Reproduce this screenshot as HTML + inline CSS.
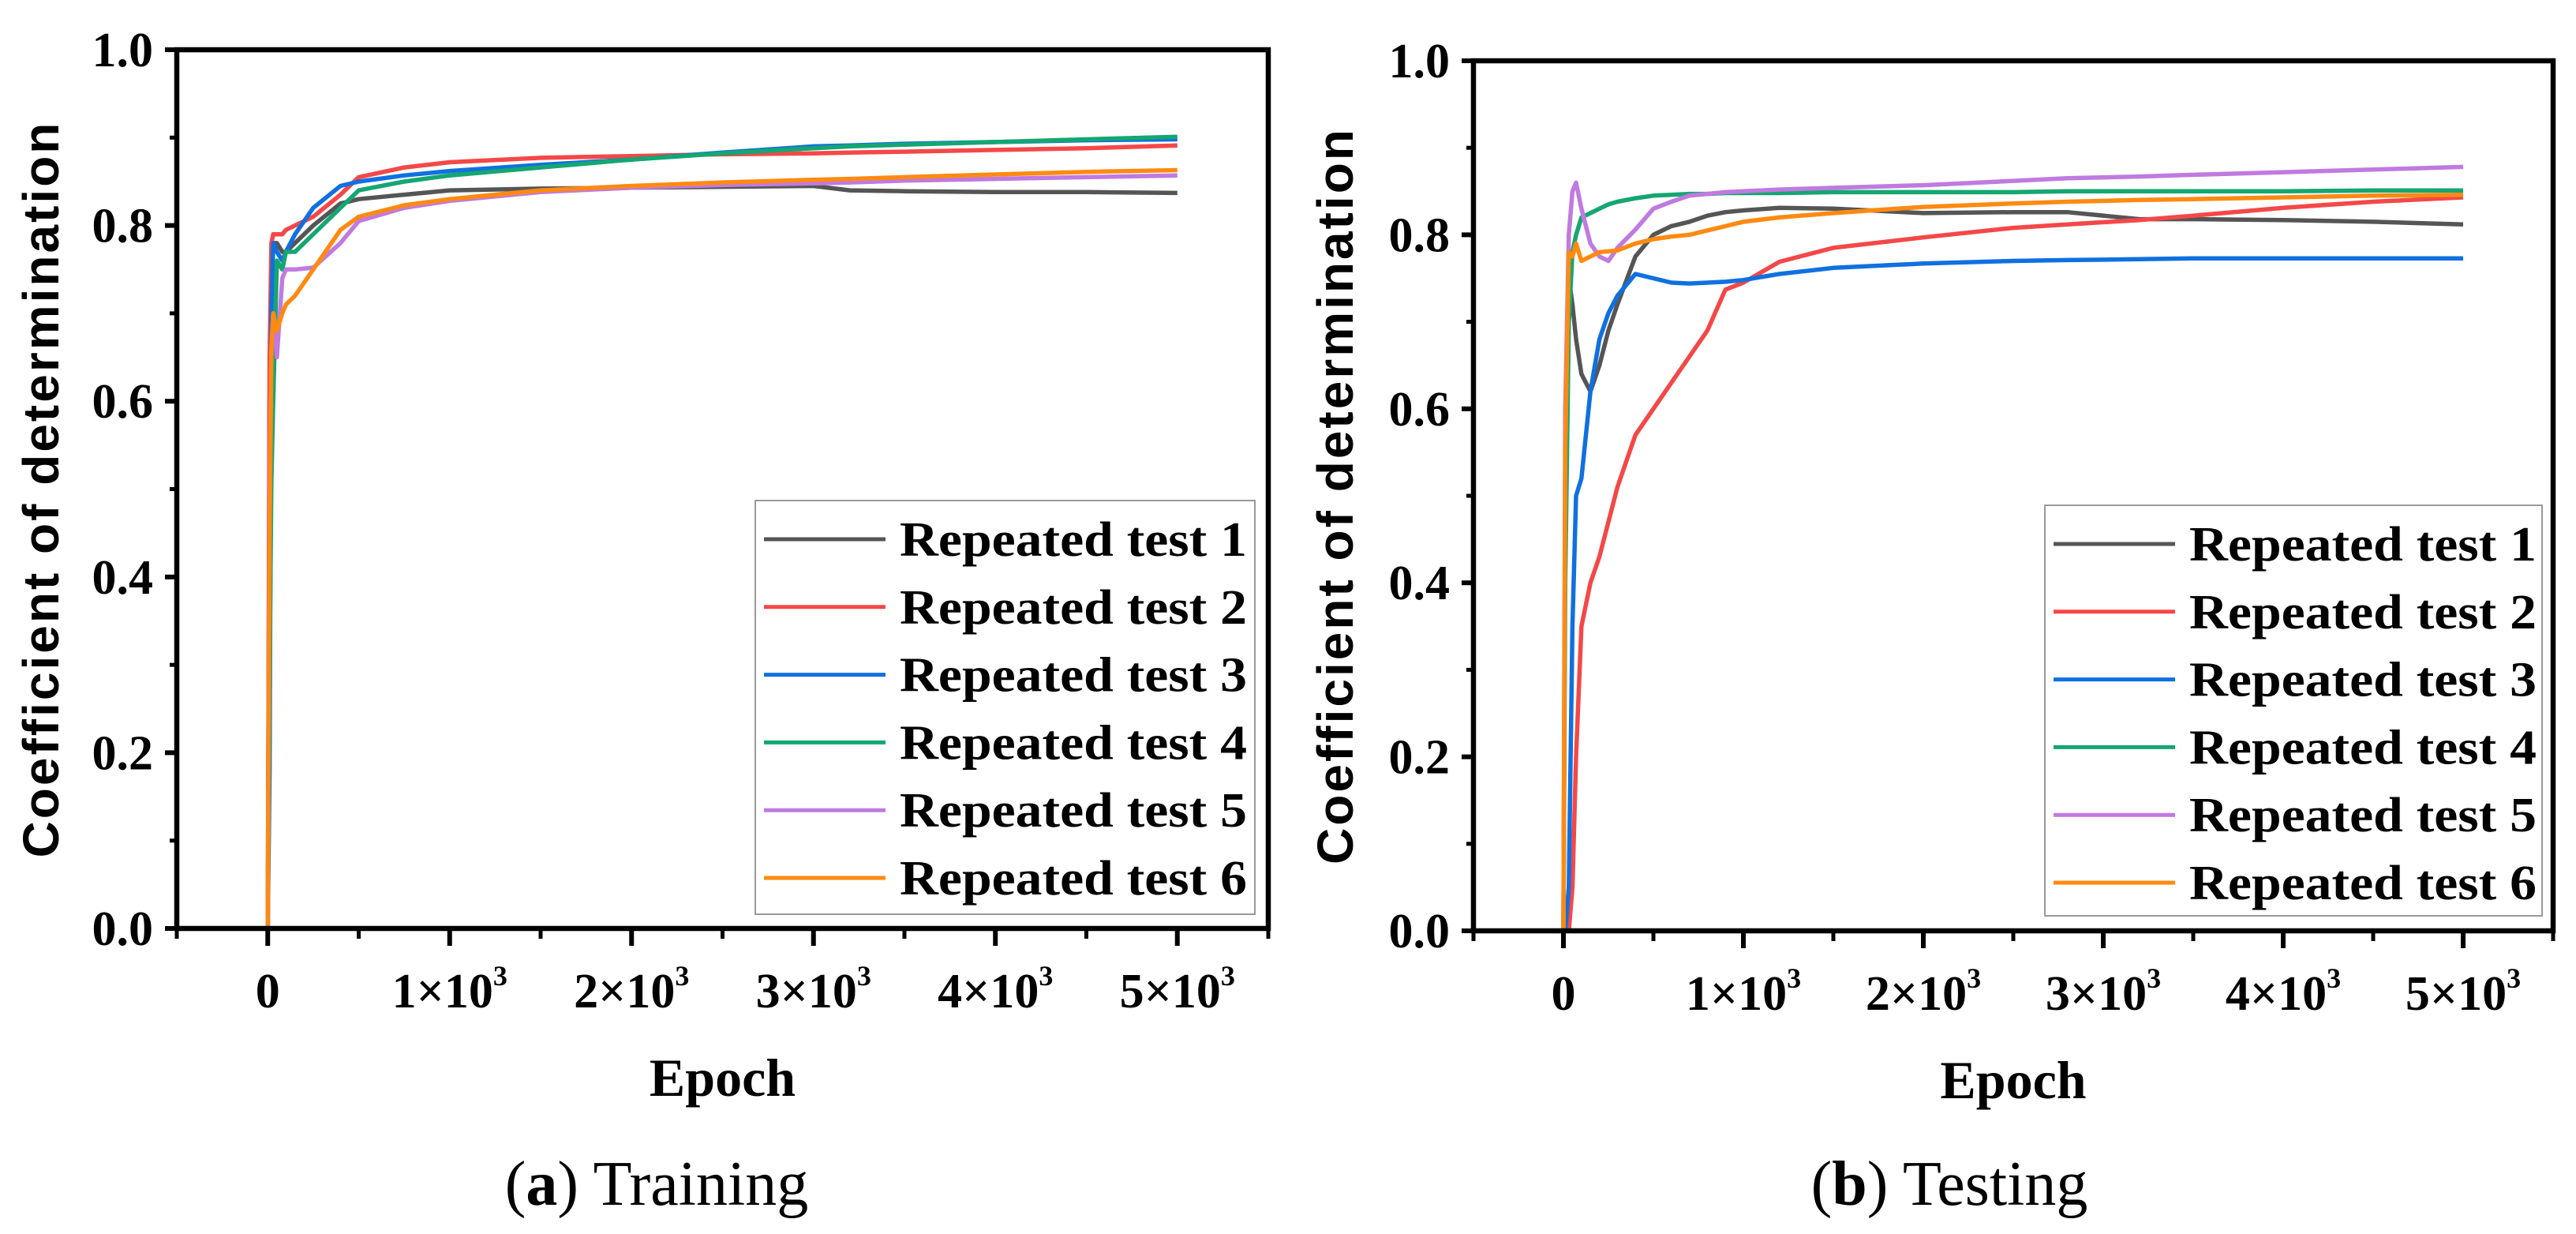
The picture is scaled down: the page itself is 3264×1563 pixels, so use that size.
<!DOCTYPE html>
<html><head><meta charset="utf-8"><style>
html,body{margin:0;padding:0;background:#fff;}
svg{display:block;}
</style></head><body>
<svg id="fig" width="3264" height="1563" viewBox="0 0 3264 1563" xmlns="http://www.w3.org/2000/svg" font-family="Liberation Serif, serif"></svg>
<script>
// ---- Data ----
const seriesNames = ["Repeated test 1","Repeated test 2","Repeated test 3","Repeated test 4","Repeated test 5","Repeated test 6"];
const seriesColors = ["#555555","#f44848","#1070e0","#15a672","#c07ae0","#ff8a12"];
const yTicks = [0.0,0.2,0.4,0.6,0.8,1.0];
const yTickLabels = ["0.0","0.2","0.4","0.6","0.8","1.0"];
const xTicks = [0,1000,2000,3000,4000,5000];
const xTickMant = ["0","1","2","3","4","5"];

const trainEpochs = [0,10,20,30,50,80,100,150,250,400,500,750,1000,1500,2000,2500,3000,3200,3500,4000,4500,5000];
const train1 = [0,0.60,0.75,0.78,0.78,0.77,0.77,0.78,0.80,0.825,0.83,0.835,0.84,0.842,0.843,0.844,0.845,0.840,0.839,0.838,0.838,0.837];
const train2 = [0,0.65,0.78,0.79,0.79,0.79,0.795,0.80,0.81,0.835,0.855,0.866,0.872,0.877,0.879,0.881,0.882,0.883,0.884,0.886,0.888,0.891];
const train3 = [0,0.18,0.70,0.78,0.77,0.76,0.77,0.79,0.82,0.845,0.85,0.857,0.862,0.869,0.875,0.883,0.89,0.891,0.893,0.895,0.897,0.898];
const train4 = [0,0.30,0.51,0.60,0.76,0.75,0.77,0.77,0.79,0.82,0.84,0.85,0.857,0.866,0.875,0.882,0.888,0.89,0.892,0.895,0.898,0.901];
const train5 = [0,0.50,0.66,0.70,0.65,0.74,0.75,0.75,0.752,0.78,0.805,0.82,0.828,0.838,0.843,0.846,0.848,0.849,0.851,0.853,0.855,0.857];
const train6 = [0,0.45,0.66,0.70,0.68,0.70,0.71,0.72,0.75,0.795,0.81,0.823,0.83,0.84,0.845,0.849,0.852,0.853,0.855,0.858,0.861,0.863];

const testEpochs = [0,10,30,50,70,100,150,200,250,300,400,500,600,700,800,900,1000,1200,1500,2000,2500,2800,3200,3500,4000,4500,5000];
const test1 = [0,0.50,0.75,0.72,0.68,0.64,0.62,0.65,0.69,0.72,0.775,0.80,0.81,0.815,0.822,0.826,0.828,0.831,0.83,0.825,0.826,0.826,0.818,0.818,0.817,0.815,0.812];
const test2 = [0,0,0,0.05,0.20,0.35,0.40,0.43,0.47,0.51,0.57,0.60,0.63,0.66,0.69,0.737,0.745,0.769,0.785,0.797,0.808,0.812,0.817,0.822,0.831,0.838,0.843];
const test3 = [0,0,0.05,0.35,0.50,0.52,0.62,0.68,0.71,0.73,0.755,0.75,0.745,0.744,0.745,0.746,0.748,0.755,0.762,0.767,0.77,0.771,0.772,0.773,0.773,0.773,0.773];
const test4 = [0,0.40,0.70,0.78,0.80,0.82,0.825,0.83,0.835,0.838,0.842,0.845,0.846,0.847,0.847,0.848,0.848,0.848,0.849,0.849,0.849,0.85,0.85,0.85,0.85,0.851,0.851];
const test5 = [0,0.60,0.80,0.85,0.86,0.83,0.79,0.775,0.77,0.785,0.806,0.83,0.838,0.845,0.847,0.849,0.85,0.852,0.854,0.857,0.862,0.865,0.867,0.869,0.872,0.875,0.878];
const test6 = [0,0.55,0.78,0.775,0.79,0.77,0.775,0.78,0.781,0.782,0.79,0.795,0.798,0.80,0.805,0.81,0.815,0.82,0.825,0.832,0.836,0.838,0.84,0.841,0.843,0.845,0.846];

const NS="http://www.w3.org/2000/svg";
const svg=document.getElementById('fig');
function mk(tag,attrs,parent){const e=document.createElementNS(NS,tag);for(const k in attrs)e.setAttribute(k,attrs[k]);(parent||svg).appendChild(e);return e;}

function panel(cfg){
  const g=mk('g',{});
  
  
  const X=e=>cfg.x0+(e-(-500))/6000*(cfg.x1-cfg.x0);
  const Y=v=>cfg.y1-v*(cfg.y1-cfg.y0);
  cfg.series.forEach((s,i)=>{
    const d=cfg.epochs.map((e,j)=>(j?'L':'M')+X(e).toFixed(1)+','+Y(s[j]).toFixed(1)).join('');
    const p=mk('path',{d:d,fill:'none',stroke:seriesColors[i],'stroke-width':5.5,'stroke-linejoin':'round'},g);
    
    
  });
  const fr=mk('rect',{x:cfg.x0,y:cfg.y0,width:cfg.x1-cfg.x0,height:cfg.y1-cfg.y0,fill:'none',stroke:'#000','stroke-width':6.5},g);
  
  
  yTicks.forEach((v,i)=>{
    mk('line',{x1:cfg.x0-15,x2:cfg.x0,y1:Y(v),y2:Y(v),stroke:'#000','stroke-width':6},g);
    if(i<yTicks.length-1) mk('line',{x1:cfg.x0-9,x2:cfg.x0,y1:Y(v+0.1),y2:Y(v+0.1),stroke:'#000','stroke-width':5},g);
    const t=mk('text',{x:cfg.x0-30,y:Y(v)+21,'text-anchor':'end','font-size':62,'font-weight':'bold'},g);
    t.textContent=yTickLabels[i];
    
    
  });
  xTicks.forEach((e,i)=>{
    mk('line',{x1:X(e),x2:X(e),y1:cfg.y1,y2:cfg.y1+22,stroke:'#000','stroke-width':6},g);
    mk('line',{x1:X(e-500),x2:X(e-500),y1:cfg.y1,y2:cfg.y1+13,stroke:'#000','stroke-width':5},g);
    const t=mk('text',{x:X(e),y:cfg.y1+100,'text-anchor':'middle','font-size':62,'font-weight':'bold'},g);
    
    
    if(e===0){t.textContent='0';}
    else{t.textContent=xTickMant[i]+'×10';const s=mk('tspan',{'font-size':36,dy:-28},t);s.textContent='3';}
  });
  mk('line',{x1:X(5500),x2:X(5500),y1:cfg.y1,y2:cfg.y1+13,stroke:'#000','stroke-width':5},g);
  const xt=mk('text',{x:(cfg.x0+cfg.x1)/2,y:cfg.y1+212,'text-anchor':'middle','font-size':68,'font-weight':'bold'},g);
  xt.textContent='Epoch';
  
  
  const yc=(cfg.y0+cfg.y1)/2;
  const yt=mk('text',{x:cfg.ytx,y:yc,'text-anchor':'middle','font-size':64,'font-weight':'bold','font-family':'Liberation Sans, sans-serif',transform:'rotate(-90 '+cfg.ytx+' '+yc+')','letter-spacing':3},g);
  yt.textContent='Coefficient of determination';
  
  
  const lg=mk('g',{},g);
  
  
  mk('rect',{x:cfg.lx,y:cfg.ly,width:cfg.lw,height:cfg.lh,fill:'#fff',stroke:'#999','stroke-width':2},lg);
  seriesNames.forEach((n,i)=>{
    const yy=cfg.ly+49+i*85.8;
    const en=mk('g',{},lg);
    
    
    mk('line',{x1:cfg.lx+11,x2:cfg.lx+165,y1:yy,y2:yy,stroke:seriesColors[i],'stroke-width':5},en);
    const t=mk('text',{x:cfg.lx+183,y:yy+21,'font-size':62,'font-weight':'bold','textLength':440,'lengthAdjust':'spacingAndGlyphs'},en);
    t.textContent=n;
  });
  const c=mk('text',{x:cfg.cx,y:1526,'text-anchor':'middle','font-size':80},svg);
  
  
  const b1=mk('tspan',{},c);b1.textContent='(';
  const b2=mk('tspan',{'font-weight':'bold'},c);b2.textContent=cfg.letter;
  const b3=mk('tspan',{},c);b3.textContent=') '+cfg.caption;
}
panel({name:'training-panel',x0:224,x1:1607,y0:63,y1:1176,ytx:74,epochs:trainEpochs,series:[train1,train2,train3,train4,train5,train6],lx:957,ly:634,lw:633,lh:524,cx:832,letter:'a',caption:'Training'});
panel({name:'testing-panel',x0:1867,x1:3235,y0:77,y1:1179,ytx:1714,epochs:testEpochs,series:[test1,test2,test3,test4,test5,test6],lx:2591,ly:640,lw:630,lh:520,cx:2470,letter:'b',caption:'Testing'});
</script>
</body></html>
